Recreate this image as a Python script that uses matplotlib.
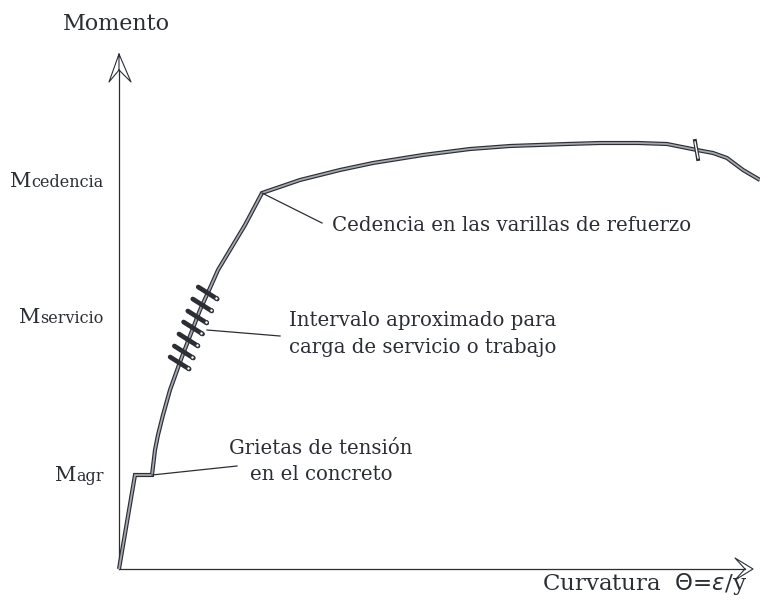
import numpy as np
import matplotlib
matplotlib.use("Agg")
from matplotlib import pyplot as plt

# moment-curvature curve (arbitrary units, origin at axes corner)
curvatura = [0, 16, 33, 36, 39, 44, 51, 61, 71, 81, 91, 99, 111, 126, 143,
             181, 221, 254, 304, 351, 391, 448, 481, 519, 548, 578, 594, 608, 624, 641]
momento = [0, 94, 94, 119, 134, 154, 179, 207, 233, 259, 281, 299, 319, 344, 376,
           389, 399, 406, 414, 420, 423, 425, 426, 426, 425, 419, 416, 411, 399, 389]

# service-load interval marks (moment levels)
marcas_servicio = [276, 264, 252, 241, 229, 217, 206]
# small break mark near the end of the curve
marca_final = 578

# levels for the labels on the moment axis
niveles = {"cedencia": 382, "servicio": 246, "agr": 88}

ink = "#2b2f35"
serif = "DejaVu Serif"

fig = plt.figure(figsize=(7.6, 6.05), dpi=100)
ax = fig.add_axes([0, 0, 1, 1])
ax.set_xlim(-119, 641)
ax.set_ylim(-36, 569)
ax.axis("off")

# axes with open arrow heads
ax.plot([0, 0], [0, 499], color=ink, lw=0.9)
ax.plot([0, 626], [0, 0], color=ink, lw=0.9)
ax.plot([0, -10, 0, 12, 0, 0], [499, 487, 515, 487, 499, 515], color=ink, lw=0.8)
ax.plot([626, 616, 634, 616, 626], [0, 11, 0, -11, 0], color=ink, lw=0.8)

# the curve: dark double line
x = np.array(curvatura)
y = np.array(momento)
ax.plot(x, y, color=ink, lw=3.0, solid_joinstyle="miter", solid_capstyle="butt")
ax.plot(x, y, color="#a4a8ae", lw=1.3, solid_joinstyle="miter", solid_capstyle="butt")

# service interval hatch marks
up = np.array(curvatura[:15])
um = np.array(momento[:15])
for m in marcas_servicio:
    c = np.interp(m, um, up)
    ax.plot([c - 9.5, c + 9.5], [m + 6.0, m - 6.0], color=ink, lw=3.4, solid_capstyle="round")
    ax.plot([c + 8.3], [m - 5.2], marker="o", ms=2.6, mfc="white", mec=ink, mew=0.8)

# end break mark
mf = np.interp(marca_final, x, y)
ax.plot([marca_final - 2, marca_final + 1], [mf + 9, mf - 9], color=ink, lw=2.8)
ax.plot([marca_final - 2, marca_final + 1], [mf + 8, mf - 8], color="white", lw=1.0)

# leaders
ax.plot([33, 118], [94, 103], color=ink, lw=0.9)
ax.plot([88, 161], [239, 233], color=ink, lw=0.9)
ax.plot([143, 203], [376, 346], color=ink, lw=0.9)

# annotations (baseline = last line)
fs = 14.2
ax.text(213, 338, "Cedencia en las varillas de refuerzo", family=serif, fontsize=fs,
        color=ink, ha="left", va="baseline")
ax.text(304, 216, "Intervalo aproximado para\ncarga de servicio o trabajo", family=serif,
        fontsize=fs, color=ink, ha="center", va="baseline", linespacing=1.5)
ax.text(202, 89, "Grietas de tensión\nen el concreto", family=serif, fontsize=fs,
        color=ink, ha="center", va="baseline", linespacing=1.5)

ax.text(-3, 539, "Momento", family=serif, fontsize=16, color=ink, ha="center", va="baseline")
ax.text(423, -21, r"Curvatura  $\Theta$=$\varepsilon$/y", family=serif, fontsize=16.5,
        color=ink, ha="left", va="baseline")

# M labels with small same-baseline subscripts
fig.canvas.draw()
renderer = fig.canvas.get_renderer()
inv = ax.transData.inverted()
for nombre, nivel in niveles.items():
    t = ax.text(-15, nivel, nombre, family=serif, fontsize=11.5, color=ink,
                ha="right", va="baseline")
    bb = t.get_window_extent(renderer)
    x0 = inv.transform((bb.x0, bb.y0))[0]
    ax.text(x0, nivel, "M", family=serif, fontsize=15, color=ink, ha="right", va="baseline")

fig.savefig("out.png", dpi=100)
